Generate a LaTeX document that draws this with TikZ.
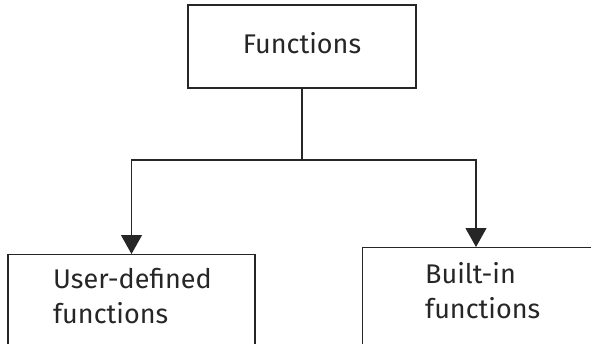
\documentclass[tikz,border=0pt]{standalone}
\usepackage{fontspec}
\setmainfont{Fira Sans}
\usetikzlibrary{arrows.meta}
\begin{document}
\begin{tikzpicture}[x=1pt,y=-1pt,
  box/.style={draw=black!85, line width=1.1pt, inner sep=0pt},
  lbl/.style={font=\fontsize{27}{35}\selectfont, text=black!85, align=left, inner sep=0pt},
  conn/.style={draw=black!85, line width=1.1pt},
  tip/.style={-{Triangle[width=21pt,length=19pt]}}]
\useasboundingbox (0,0) rectangle (591,343);
\clip (0,0) rectangle (591,343);
% parent box
\node[box, minimum width=228pt, minimum height=83pt] (fn) at (302,46.5) {};
\node[lbl, anchor=base] (fnt) at (302,53) {Functions};
% child boxes, running past the lower edge
\node[box, minimum width=247pt, minimum height=140pt, anchor=north] (ud) at (131.5,254) {};
\node[lbl, anchor=base west] (udt) at (53,323) {User-defined\\functions};
\node[box, minimum width=240pt, minimum height=140pt, anchor=north west] (bi) at (362,247) {};
\node[lbl, anchor=base west] (bit) at (425,318) {Built-in\\functions};
% connectors
\coordinate (j) at (fn.south |- 0,160);
\draw[conn] (fn.south) -- (j);
\draw[conn, tip] (j) -| (ud.north);
\draw[conn, tip] (j) -| (bi.north west -| 476,0);
\end{tikzpicture}
\end{document}
